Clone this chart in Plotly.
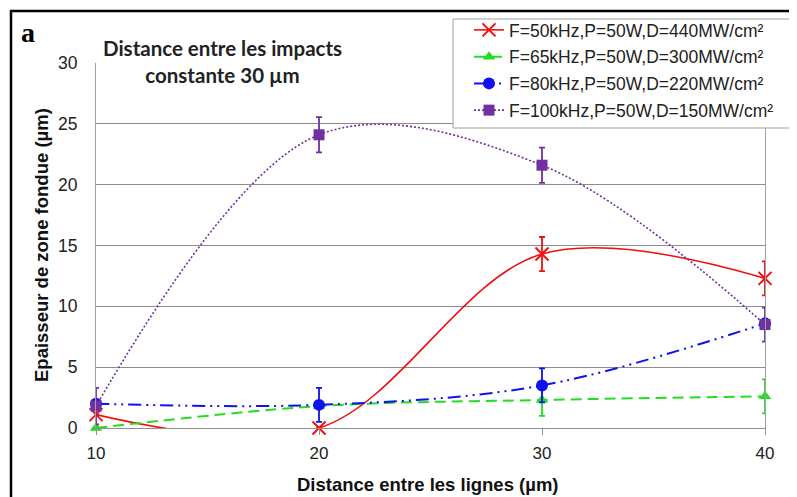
import plotly.graph_objects as go

x_lignes = [10, 20, 30, 40]

names = [
    "F=50kHz,P=50W,D=440MW/cm²",
    "F=65kHz,P=50W,D=300MW/cm²",
    "F=80kHz,P=50W,D=220MW/cm²",
    "F=100kHz,P=50W,D=150MW/cm²",
]
y_50k = [1.1, 0.0, 14.3, 12.3]
y_65k = [0.0, 1.8, 2.3, 2.6]
y_80k = [2.0, 1.9, 3.5, 8.6]
y_100k = [1.8, 24.1, 21.6, 8.5]

err_50k = [0, 0, 1.4, 1.4]
err_65k = [0, 0, 1.3, 1.4]
err_80k = [0, 1.4, 1.4, 0]
err_100k = [1.5, 1.45, 1.45, 1.4]

tick_vals_y = [0, 5, 10, 15, 20, 25, 30]

# the page places the figure 8px from the top-left corner (body margin)
OFF = 8
W, H = 789, 489
L, R, T, B = 96 - OFF, 32, 63 - OFF, 69
pw, ph = W - L - R, H - T - B


def px(xp):
    # xp: pixel position in the screenshot
    return (xp - OFF - L) / pw


def py(yp):
    return (H - B - (yp - OFF)) / ph


series = [
    (names[0], y_50k, err_50k, "#F01010", "x-thin", 13, "solid", 1.6),
    (names[1], y_65k, err_65k, "#22DD22", "triangle-up", 11, "11px,6px", 2.0),
    (names[2], y_80k, err_80k, "#1010F0", "circle", 12, "13px,5px,2px,5px,2px,5px", 2.0),
    (names[3], y_100k, err_100k, "#7030A0", "square", 11, "2px,2px", 1.6),
]

fig = go.Figure()
for i, (nm, ys, er, col, sym, sz, dash, lw) in enumerate(series):
    mk = dict(symbol=sym, size=sz, color=col)
    if sym == "x-thin":
        mk["line"] = dict(color=col, width=2)
    fig.add_trace(go.Scatter(
        x=x_lignes, y=ys, name=nm, mode="lines+markers",
        line=dict(color=col, width=lw, dash=dash, shape="spline", smoothing=1.0),
        marker=mk,
        error_y=dict(type="data", array=er, visible=True, color=col,
                     thickness=1.8, width=3),
        cliponaxis=False,
        legendgroup="g%d" % i,
    ))

fig.update_layout(
    width=W, height=H,
    margin=dict(l=L, r=R, t=T, b=B, pad=0, autoexpand=False),
    paper_bgcolor="white", plot_bgcolor="white",
    font=dict(family="Liberation Sans, Arial", color="#222"),
    showlegend=True,
    legend=dict(
        x=px(469), y=py(12), xanchor="left", yanchor="top",
        bgcolor="rgba(0,0,0,0)", borderwidth=0,
        font=dict(size=17.5, color="#222"),
        tracegroupgap=1,
        itemwidth=30,
    ),
    xaxis=dict(
        range=[10, 40], tickvals=x_lignes, ticks="outside", ticklen=6,
        tickcolor="#909090", showgrid=False, showline=True, linecolor="#909090",
        linewidth=1, zeroline=False, tickfont=dict(size=17, color="#222"),
        ticklabelstandoff=4, automargin=False,
    ),
    yaxis=dict(
        range=[0, 30], tickvals=tick_vals_y, ticks="", showgrid=True,
        gridcolor="#8C8C8C", gridwidth=1, showline=True, linecolor="#A0A0A0",
        mirror=True, zeroline=False, tickfont=dict(size=17.5, color="#222"),
        ticklabelstandoff=14, automargin=False,
    ),
)

# axis titles
fig.add_annotation(
    x=px(428), y=py(485), xref="paper", yref="paper", xanchor="center", yanchor="middle",
    text="<b>Distance entre les lignes (µm)</b>", showarrow=False,
    font=dict(size=18.5, color="#111"),
)
fig.add_annotation(
    x=px(42), y=py(245), xref="paper", yref="paper", xanchor="center", yanchor="middle",
    text="<b>Epaisseur de zone fondue (µm)</b>", showarrow=False, textangle=-90,
    font=dict(size=18.5, color="#111"),
)

# legend box (drawn above the curves, under the legend text)
fig.add_shape(
    type="rect", xref="paper", yref="paper",
    x0=px(453), x1=px(791), y0=py(128), y1=py(19),
    line=dict(color="#A0A0A0", width=1), fillcolor="white", layer="above",
)

fig.add_annotation(
    x=px(222), y=py(61), xref="paper", yref="paper", xanchor="center", yanchor="middle",
    text="<b>Distance entre les impacts<br>constante 30 µm</b>", showarrow=False,
    font=dict(family="Lato, Open Sans", size=20.5, color="#222"), align="center",
)
fig.add_annotation(
    x=px(19), y=py(33), xref="paper", yref="paper", xanchor="left", yanchor="middle",
    text="<b>a</b>", showarrow=False,
    font=dict(family="Liberation Serif, Times New Roman", size=28, color="#000"),
)
# outer frame: top and left edges
fig.add_shape(
    type="line", xref="paper", yref="paper",
    x0=px(10), x1=px(820), y0=py(11), y1=py(11),
    line=dict(color="black", width=2.5), layer="above",
)
fig.add_shape(
    type="line", xref="paper", yref="paper",
    x0=px(11), x1=px(11), y0=py(10), y1=py(520),
    line=dict(color="black", width=2.5), layer="above",
)

fig.write_html("out.html")
